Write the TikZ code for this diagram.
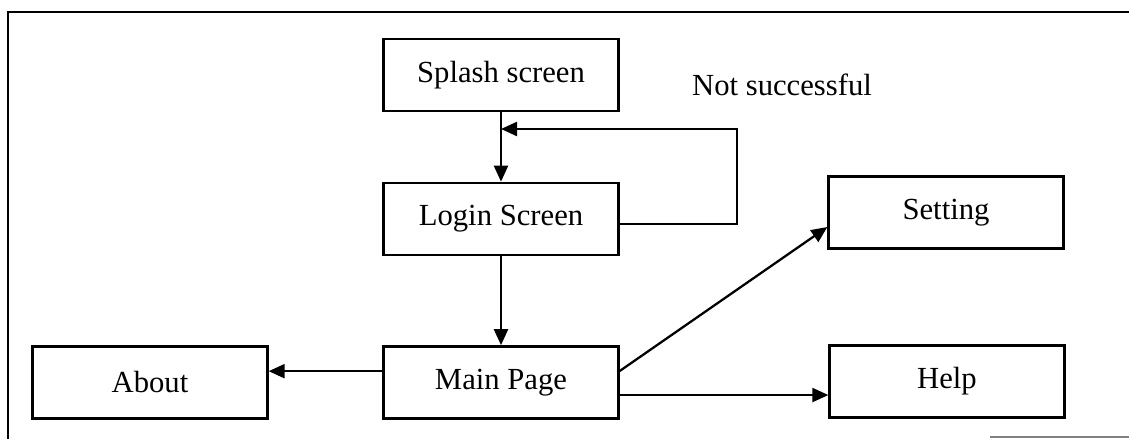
\documentclass[tikz,border=0pt]{standalone}
\usepackage{fontspec}
\setmainfont{Liberation Serif}
\usetikzlibrary{arrows.meta}
\begin{document}
\begin{tikzpicture}[x=0.75pt,y=-0.75pt,
  box/.style={draw=black,line width=2pt,minimum width=176pt,minimum height=54pt,inner sep=0pt,font=\fontsize{23}{27}\selectfont},
  arr/.style={line width=1.7pt,-{Triangle[length=12pt,width=10.5pt]}},
  frame/.style={line width=2pt},
  lbl/.style={font=\fontsize{23}{27}\selectfont,inner sep=0pt}]
\useasboundingbox (0,0) rectangle (1129,439);
\draw[frame] (8,439) -- (8,12) -- (1129,12);
\draw[gray,line width=0.8pt] (990,437) -- (1129,437);
\node[box] (splash) at (501,75) {Splash screen};
\node[box] (login) at (501,219) {Login Screen};
\node[box] (main) at (501,382.5) {Main Page};
\node[box] (about) at (150,382.5) {About};
\node[box] (setting) at (946,212.5) {Setting};
\node[box] (help) at (947,381.5) {Help};
\node[lbl] (ns) at (782,85) {Not successful};
\coordinate (fbR) at (737,129);
\draw[arr] (splash) -- (login);
\draw[arr] ([yshift=-3.75pt]login.east) -| (fbR) -- (fbR -| login.north);
\draw[arr] (login) -- (main);
\draw[arr] ([yshift=8.5pt]main.west) coordinate (a1) -- (a1 -| about.east);
\draw[arr] ([yshift=-9.4pt]main.east) coordinate (h1) -- (h1 -| help.west);
\draw[arr] ([yshift=8.6pt]main.east) -- ([yshift=-10.9pt]setting.west);
\end{tikzpicture}
\end{document}
